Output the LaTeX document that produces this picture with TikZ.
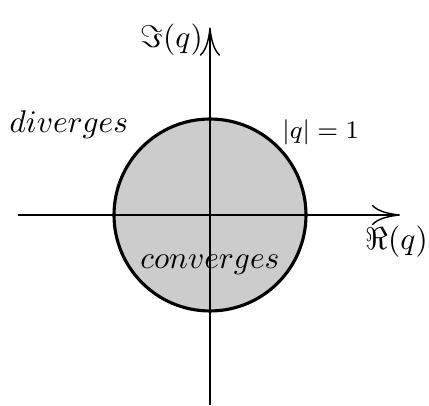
\documentclass[tikz,border=0pt]{standalone}
\usepackage{amsmath,amssymb}
\usetikzlibrary{arrows.meta}
\definecolor{disk}{HTML}{CCCCCC}

\begin{document}
\begin{tikzpicture}[
  axis/.style={-{To[length=9pt,width=6.5pt]}, line width=.45pt},
  region/.style={draw, line width=1pt, fill=disk},
  label/.style={inner sep=0pt}
]
  \useasboundingbox (-2.352,-2.139) rectangle (2.453,2.408);
  \node[region, circle, minimum size=2.15cm, inner sep=0pt] (unit) at (0,0) {};
  \coordinate (xstart) at (-2.15,0);
  \coordinate (xend) at (2.13,0);
  \coordinate (ystart) at (0,-2.128);
  \coordinate (yend) at (0,2.1);
  \draw[axis] (xstart) -- (xend);
  \draw[axis] (ystart) -- (yend);

  \node[label] (imag) at (-0.43,1.96) {$\Im(q)$};
  \node[label] (real) at (2.09,-0.30) {$\Re(q)$};
  \node[label] (div) at (-1.58,1.01) {$diverges$};
  \node[label, font=\footnotesize] (modulus) at (1.24,0.93) {$|q|=1$};
  \node[label] (conv) at (0,-0.56) {$converges$};
\end{tikzpicture}
\end{document}
